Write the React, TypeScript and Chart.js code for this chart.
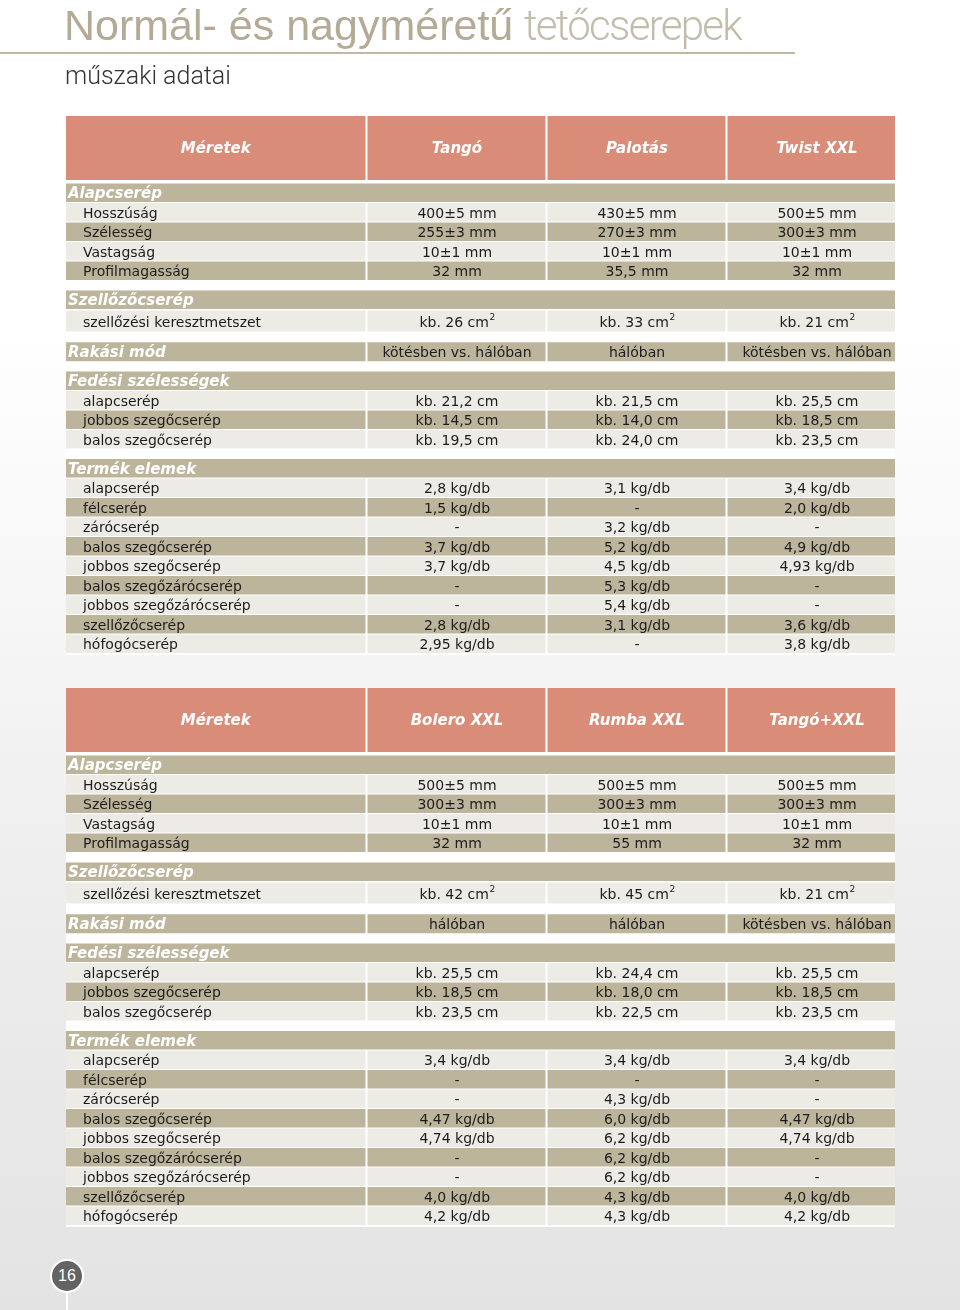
import { useEffect, useRef } from "react";
import { Chart, registerables } from "chart.js";

Chart.register(...registerables);

// ---------- texts ----------
const pageTitleStrong = "Normál- és nagyméretű";
const pageTitleLight = "tetőcserepek";
const pageSubtitle = "műszaki adatai";
const pageNumber = "16";

const headerLabel = "Méretek";
const productsA = ["Tangó", "Palotás", "Twist XXL"];
const productsB = ["Bolero XXL", "Rumba XXL", "Tangó+XXL"];

const sectionTitles = ["Alapcserép", "Szellőzőcserép", "Rakási mód", "Fedési szélességek", "Termék elemek"];
const dimensionLabels = ["Hosszúság", "Szélesség", "Vastagság", "Profilmagasság"];
const ventLabel = "szellőzési keresztmetszet";
const coverLabels = ["alapcserép", "jobbos szegőcserép", "balos szegőcserép"];
const elementLabels = [
  "alapcserép",
  "félcserép",
  "zárócserép",
  "balos szegőcserép",
  "jobbos szegőcserép",
  "balos szegőzárócserép",
  "jobbos szegőzárócserép",
  "szellőzőcserép",
  "hófogócserép",
];

// ---------- values (order: Tangó, Palotás, Twist XXL, Bolero XXL, Rumba XXL, Tangó+XXL) ----------
const lengthMm = [400, 430, 500, 500, 500, 500];
const lengthTolMm = [5, 5, 5, 5, 5, 5];
const widthMm = [255, 270, 300, 300, 300, 300];
const widthTolMm = [3, 3, 3, 3, 3, 3];
const thicknessMm = [10, 10, 10, 10, 10, 10];
const thicknessTolMm = [1, 1, 1, 1, 1, 1];
const profileMm = [32, 35.5, 32, 32, 55, 32];
const ventAreaCm2 = [26, 33, 21, 42, 45, 21];
const layingMode = [
  "kötésben vs. hálóban",
  "hálóban",
  "kötésben vs. hálóban",
  "hálóban",
  "hálóban",
  "kötésben vs. hálóban",
];
const coverBaseCm = [21.2, 21.5, 25.5, 25.5, 24.4, 25.5];
const coverRightCm = [14.5, 14.0, 18.5, 18.5, 18.0, 18.5];
const coverLeftCm = [19.5, 24.0, 23.5, 23.5, 22.5, 23.5];

const weightTango = [2.8, 1.5, null, 3.7, 3.7, null, null, 2.8, 2.95];
const weightPalotas = [3.1, null, 3.2, 5.2, 4.5, 5.3, 5.4, 3.1, null];
const weightTwist = [3.4, 2.0, null, 4.9, 4.93, null, null, 3.6, 3.8];
const weightBolero = [3.4, null, null, 4.47, 4.74, null, null, 4.0, 4.2];
const weightRumba = [3.4, null, 4.3, 6.0, 6.2, 6.2, 6.2, 4.3, 4.3];
const weightTangoXxl = [3.4, null, null, 4.47, 4.74, null, null, 4.0, 4.2];
const productWeights: (number | null)[][] = [
  weightTango,
  weightPalotas,
  weightTwist,
  weightBolero,
  weightRumba,
  weightTangoXxl,
];

// ---------- layout / style constants ----------
const PAGE_W = 960;
const PAGE_H = 1310;
const TABLE_A_TOP = 116;
const TABLE_B_TOP = 688;
const TABLE_LEFT = 66;
const TABLE_RIGHT = 895;
const LABEL_COL_RIGHT = 365.5;
const COL_LEFT0 = 367.5;
const COL_STEP = 180;
const COL_INNER = 178;
const COL_TEXT_HALF = 89.5;
const HEADER_H = 64;
const HEADER_GAP = 3;
const ROW_PITCH = 19.5;
const VENT_PITCH = 23;
const GROUP_GAP = 9.5;

const SALMON = "#d98d78";
const TAN = "#bcb59c";
const LIGHT = "#ecebe6";
const TEXT = "#1c1c1c";
const FONT = '"DejaVu Sans", Verdana, sans-serif';
const BODY_PX = 14;

type RowKind = "header" | "section" | "data" | "vent" | "mode";
interface Row {
  kind: RowKind;
  label: string;
  values: string[];
  shade?: "light" | "tan";
  center: number;
}

const dec = (v: number) => String(v).replace(".", ",");
const fix1 = (v: number) => {
  const s = String(v);
  return (s.includes(".") ? s : v.toFixed(1)).replace(".", ",");
};

function buildTable(top: number, offset: number, names: string[]) {
  const rows: Row[] = [];
  let cur = top;
  const idx = [0, 1, 2].map((i) => offset + i);
  rows.push({ kind: "header", label: headerLabel, values: names, center: cur + HEADER_H / 2 });
  cur += HEADER_H + HEADER_GAP;
  const push = (kind: RowKind, label: string, values: string[], shade?: "light" | "tan") => {
    const h = kind === "vent" ? VENT_PITCH : ROW_PITCH;
    rows.push({ kind, label, values, shade, center: cur + h / 2 });
    cur += h;
  };
  const shadeOf = (k: number) => (k % 2 === 0 ? "light" : "tan");

  push("section", sectionTitles[0], []);
  const dimValues = [
    idx.map((p) => `${lengthMm[p]}±${lengthTolMm[p]} mm`),
    idx.map((p) => `${widthMm[p]}±${widthTolMm[p]} mm`),
    idx.map((p) => `${thicknessMm[p]}±${thicknessTolMm[p]} mm`),
    idx.map((p) => `${dec(profileMm[p])} mm`),
  ];
  dimensionLabels.forEach((l, k) => push("data", l, dimValues[k], shadeOf(k)));
  cur += GROUP_GAP;

  push("section", sectionTitles[1], []);
  push("vent", ventLabel, idx.map((p) => `kb. ${ventAreaCm2[p]} cm`), "light");
  cur += GROUP_GAP;

  push("mode", sectionTitles[2], idx.map((p) => layingMode[p]), "tan");
  cur += GROUP_GAP;

  push("section", sectionTitles[3], []);
  const coverValues = [
    idx.map((p) => `kb. ${fix1(coverBaseCm[p])} cm`),
    idx.map((p) => `kb. ${fix1(coverRightCm[p])} cm`),
    idx.map((p) => `kb. ${fix1(coverLeftCm[p])} cm`),
  ];
  coverLabels.forEach((l, k) => push("data", l, coverValues[k], shadeOf(k)));
  cur += GROUP_GAP;

  push("section", sectionTitles[4], []);
  elementLabels.forEach((l, k) =>
    push(
      "data",
      l,
      idx.map((p) => {
        const w = productWeights[p][k];
        return w == null ? "-" : `${fix1(w)} kg/db`;
      }),
      shadeOf(k)
    )
  );
  return { rows, top, bottom: cur };
}

const cellSpans = (): [number, number][] => [
  [TABLE_LEFT, LABEL_COL_RIGHT],
  ...[0, 1, 2].map(
    (i) =>
      [COL_LEFT0 + i * COL_STEP, Math.min(COL_LEFT0 + i * COL_STEP + COL_INNER, TABLE_RIGHT)] as [number, number]
  ),
];

export default function App() {
  const canvasRef = useRef<HTMLCanvasElement>(null);

  useEffect(() => {
    const canvas = canvasRef.current;
    if (!canvas) return;
    const tA = buildTable(TABLE_A_TOP, 0, productsA);
    const tB = buildTable(TABLE_B_TOP, 3, productsB);
    const rows = [...tA.rows, ...tB.rows];
    const tables = [tA, tB];

    const cellsOf = (filter: (r: Row) => boolean) =>
      rows.filter(filter).flatMap((r) => cellSpans().map((s) => ({ x: s, y: r.center })));

    const base = {
      stack: "cells",
      borderWidth: 0,
      inflateAmount: 0,
      order: 0,
    };

    const datasets: any[] = [
      {
        ...base,
        label: "header",
        backgroundColor: SALMON,
        barThickness: HEADER_H,
        data: cellsOf((r) => r.kind === "header"),
      },
      {
        ...base,
        label: "section",
        backgroundColor: TAN,
        barThickness: ROW_PITCH - 1,
        data: rows.filter((r) => r.kind === "section").map((r) => ({ x: [TABLE_LEFT, TABLE_RIGHT], y: r.center })),
      },
      {
        ...base,
        label: "light",
        backgroundColor: LIGHT,
        barThickness: ROW_PITCH - 1,
        data: cellsOf((r) => r.kind === "data" && r.shade === "light"),
      },
      {
        ...base,
        label: "tan",
        backgroundColor: TAN,
        barThickness: ROW_PITCH - 1,
        data: cellsOf((r) => r.kind === "data" && r.shade === "tan"),
      },
      {
        ...base,
        label: "vent",
        backgroundColor: LIGHT,
        barThickness: VENT_PITCH - 2,
        data: cellsOf((r) => r.kind === "vent"),
      },
      {
        ...base,
        label: "mode",
        backgroundColor: TAN,
        barThickness: ROW_PITCH - 0.5,
        data: cellsOf((r) => r.kind === "mode"),
      },
      {
        ...base,
        order: 1,
        label: "backdrop",
        backgroundColor: "#ffffff",
        barThickness: tA.bottom + 1.5 - tA.top,
        data: tables.map((t) => ({ x: [TABLE_LEFT, TABLE_RIGHT], y: (t.top + t.bottom + 1.5) / 2 })),
      },
    ];

    const textPlugin = {
      id: "tableText",
      afterDatasetsDraw(chart: any) {
        const { ctx } = chart;
        const xs = chart.scales.x;
        const ys = chart.scales.y;
        const colCenter = (i: number) => xs.getPixelForValue(COL_LEFT0 + i * COL_STEP + COL_TEXT_HALF);
        const bodyFont = `${BODY_PX}px ${FONT}`;
        ctx.save();
        ctx.textBaseline = "alphabetic";
        for (const r of rows) {
          const cy = ys.getPixelForValue(r.center);
          if (r.kind === "header") {
            ctx.font = `italic bold 15px ${FONT}`;
            ctx.fillStyle = "#ffffff";
            ctx.textAlign = "center";
            ctx.fillText(r.label, xs.getPixelForValue((TABLE_LEFT + LABEL_COL_RIGHT) / 2), cy + 5);
            r.values.forEach((v, i) => ctx.fillText(v, colCenter(i), cy + 5));
            continue;
          }
          if (r.kind === "section" || r.kind === "mode") {
            ctx.font = `italic bold 15px ${FONT}`;
            ctx.fillStyle = "#ffffff";
            ctx.textAlign = "left";
            ctx.fillText(r.label, xs.getPixelForValue(TABLE_LEFT + 2), cy + 5.5);
          } else {
            ctx.font = bodyFont;
            ctx.fillStyle = TEXT;
            ctx.textAlign = "left";
            ctx.fillText(r.label, xs.getPixelForValue(TABLE_LEFT + 17), cy + 5.5);
          }
          ctx.font = bodyFont;
          ctx.fillStyle = TEXT;
          r.values.forEach((v, i) => {
            const cx = colCenter(i);
            if (r.kind === "vent") {
              ctx.font = bodyFont;
              const w1 = ctx.measureText(v).width;
              ctx.font = `9px ${FONT}`;
              const w2 = ctx.measureText("2").width;
              const x0 = cx - (w1 + w2) / 2;
              ctx.textAlign = "left";
              ctx.font = bodyFont;
              ctx.fillText(v, x0, cy + 5.5);
              ctx.font = `9px ${FONT}`;
              ctx.fillText("2", x0 + w1 + 0.5, cy - 1);
            } else {
              ctx.textAlign = "center";
              ctx.fillText(v, cx, cy + 5.5);
            }
          });
        }
        ctx.restore();
      },
    };

    const chart = new Chart(canvas, {
      type: "bar",
      data: { datasets },
      options: {
        indexAxis: "y",
        responsive: false,
        maintainAspectRatio: false,
        animation: false,
        devicePixelRatio: 1,
        layout: { padding: 0 },
        events: [],
        plugins: { legend: { display: false }, tooltip: { enabled: false }, title: { display: false } },
        scales: {
          x: { type: "linear", min: 0, max: PAGE_W, display: false, stacked: false, offset: false },
          y: {
            type: "linear",
            min: 0,
            max: PAGE_H,
            reverse: true,
            display: false,
            offset: false,
            grid: { offset: false },
          },
        },
      } as any,
      plugins: [textPlugin],
    });
    return () => chart.destroy();
  }, []);

  return (
    <div
      style={{
        position: "absolute",
        left: 0,
        top: 0,
        width: PAGE_W,
        height: PAGE_H,
        overflow: "hidden",
        background: "linear-gradient(180deg, #ffffff 0px, #ffffff 320px, #ededed 900px, #e3e3e3 1310px)",
      }}
    >
      <canvas
        ref={canvasRef}
        width={PAGE_W}
        height={PAGE_H}
        style={{ position: "absolute", left: 0, top: 0, width: PAGE_W, height: PAGE_H }}
      />
      <div
        style={{
          position: "absolute",
          left: 64,
          top: 0,
          whiteSpace: "nowrap",
          fontSize: 43,
          lineHeight: "50px",
        }}
      >
        <span style={{ fontFamily: '"Liberation Sans", Arial, sans-serif', color: "#b3ab95" }}>{pageTitleStrong}</span>{" "}
        <span
          style={{ fontFamily: "Roboto, sans-serif", fontWeight: 300, color: "#c2bcab", letterSpacing: "-1.7px", fontSize: 42 }}
        >
          {pageTitleLight}
        </span>
      </div>
      <div style={{ position: "absolute", left: 0, top: 52, width: 795, height: 2, background: "#bfb8a5" }} />
      <div
        style={{
          position: "absolute",
          left: 65,
          top: 61,
          whiteSpace: "nowrap",
          fontFamily: "Roboto, sans-serif",
          fontWeight: 300,
          fontSize: 25,
          lineHeight: "30px",
          color: "#333333",
        }}
      >
        {pageSubtitle}
      </div>
      <div style={{ position: "absolute", left: 66, top: 1290, width: 2, height: 20, background: "#ffffff" }} />
      <div
        style={{
          position: "absolute",
          left: 50,
          top: 1259,
          width: 30,
          height: 30,
          borderRadius: "50%",
          border: "2px solid #ffffff",
          background: "#636363",
          color: "#ffffff",
          fontFamily: '"Liberation Sans", Arial, sans-serif',
          fontSize: 16,
          lineHeight: "30px",
          textAlign: "center",
        }}
      >
        {pageNumber}
      </div>
    </div>
  );
}
